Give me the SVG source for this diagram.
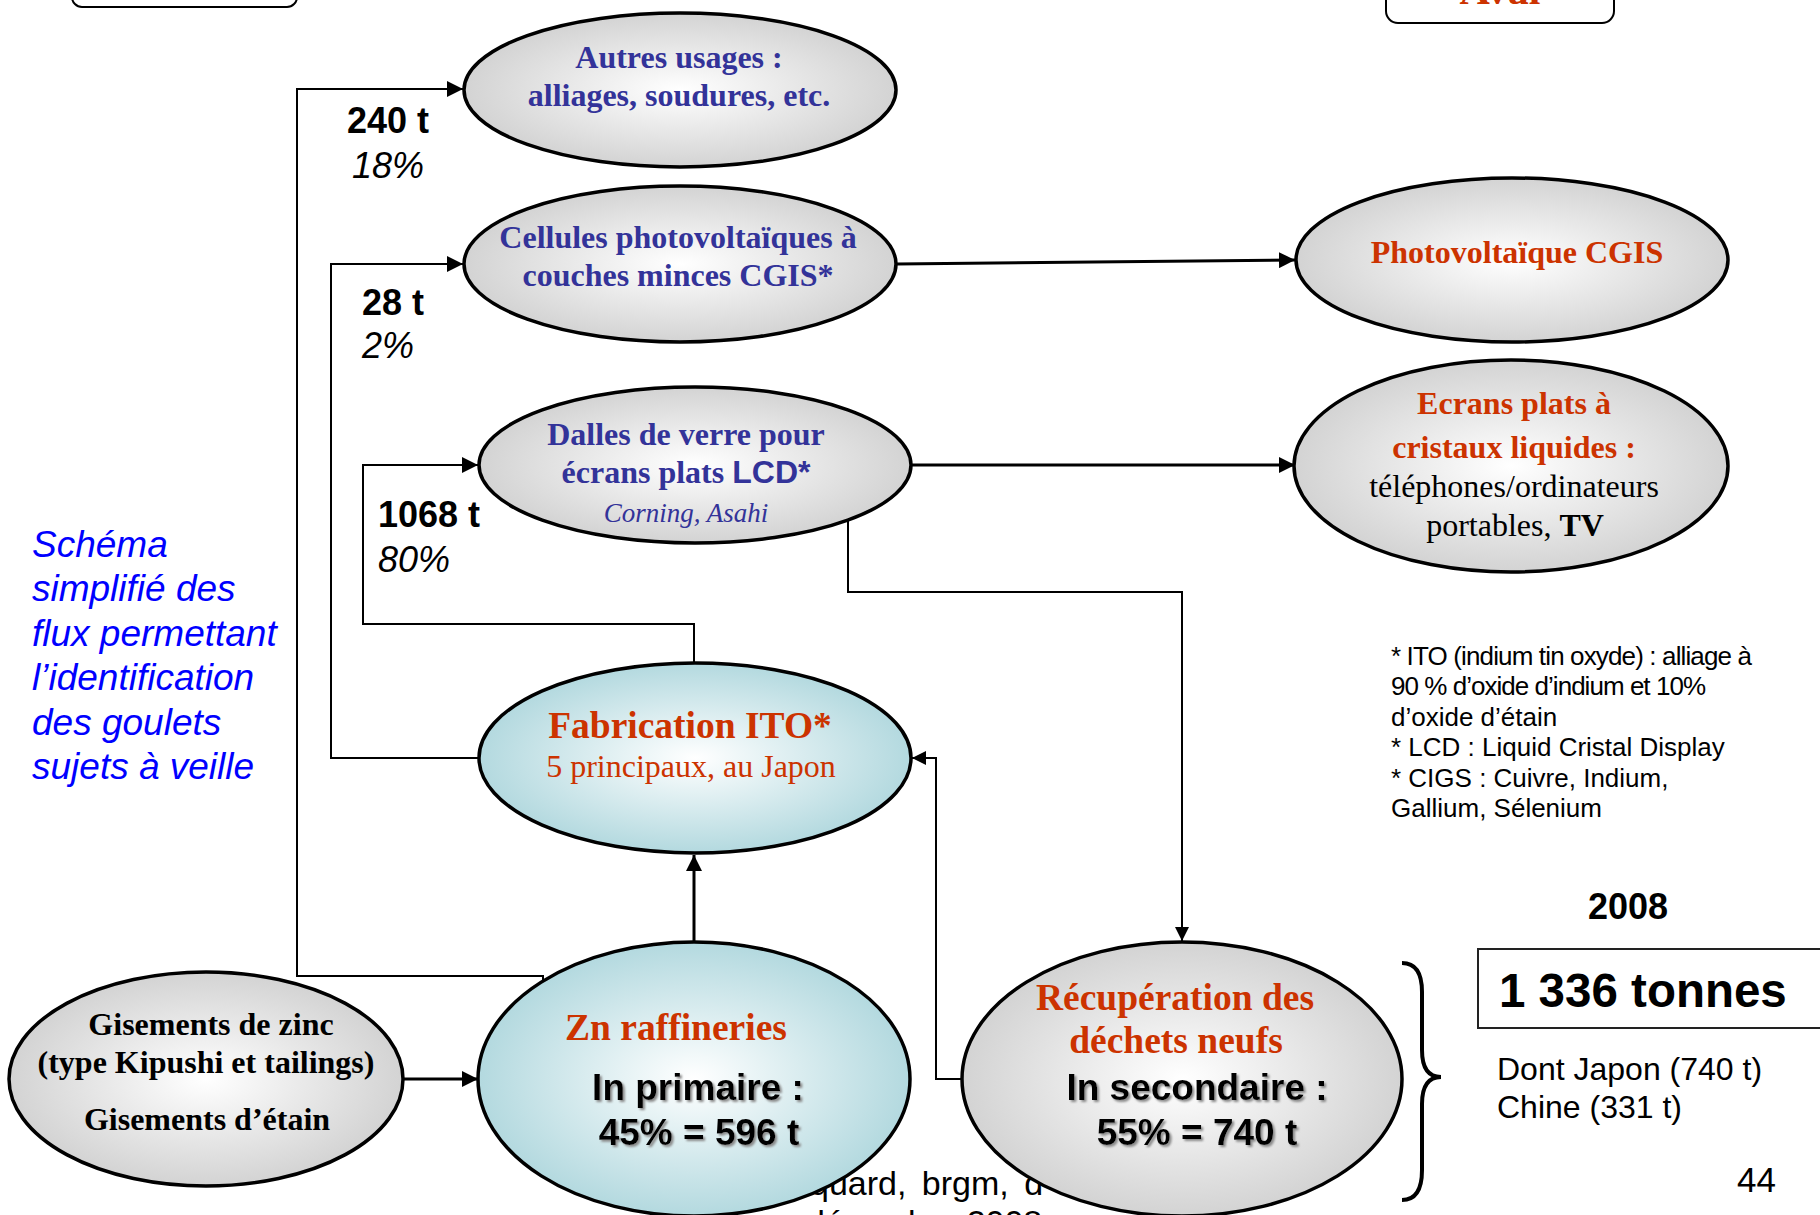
<svg xmlns="http://www.w3.org/2000/svg" width="1820" height="1215" viewBox="0 0 1820 1215">
<style>
.sv{font-family:"Liberation Serif","Times New Roman",serif;font-weight:bold;font-size:32px;text-anchor:middle}
.sr{font-family:"Liberation Serif","Times New Roman",serif;font-size:32px;text-anchor:middle}
.lg{font-size:37.5px}
.blue{fill:#333399}
.red{fill:#cc3300}
.blk{fill:#000}
.ss{font-family:"Liberation Sans",Arial,sans-serif}
.qty{font-family:"Liberation Sans",Arial,sans-serif;font-weight:bold;font-size:36px;fill:#000}
.pct{font-family:"Liberation Sans",Arial,sans-serif;font-style:italic;font-size:36px;fill:#000}
.big{font-family:"Liberation Sans",Arial,sans-serif;font-weight:bold;font-size:37px;text-anchor:middle;fill:#000}
.node{stroke:#000;stroke-width:3.5}
.gray{fill:url(#gGray)}
.cyan{fill:url(#gCyan)}
.thin{fill:none;stroke:#000;stroke-width:2}
.thick{fill:none;stroke:#000;stroke-width:3}
.note{font-family:"Liberation Sans",Arial,sans-serif;font-size:26px;fill:#000}
.side{font-family:"Liberation Sans",Arial,sans-serif;font-style:italic;font-size:37px;fill:#0000ff}
.src{font-family:"Liberation Sans",Arial,sans-serif;font-size:34px;fill:#000}
</style>
<defs>
<radialGradient id="gGray" cx="50%" cy="50%" r="50%">
<stop offset="0" stop-color="#ffffff"/>
<stop offset="1" stop-color="#d3d3d3"/>
</radialGradient>
<radialGradient id="gCyan" cx="50%" cy="50%" r="50%">
<stop offset="0" stop-color="#ffffff"/>
<stop offset="1" stop-color="#b3d9df"/>
</radialGradient>
<marker id="ah" markerUnits="userSpaceOnUse" markerWidth="16" markerHeight="16" viewBox="0 0 16 16" refX="16" refY="8" orient="auto">
<path d="M0,0 L16,8 L0,16 z" fill="#000"/>
</marker>
<marker id="ahs" markerUnits="userSpaceOnUse" markerWidth="14" markerHeight="14" viewBox="0 0 14 14" refX="14" refY="7" orient="auto">
<path d="M0,0 L14,7 L0,14 z" fill="#000"/>
</marker>
<filter id="sh" x="-10%" y="-20%" width="120%" height="150%">
<feDropShadow dx="2" dy="2" stdDeviation="0.8" flood-color="#8a8a8a"/>
</filter>
</defs>

<rect width="1820" height="1215" fill="#fff"/>

<!-- top boxes -->
<g id="box-left">
<rect x="72" y="-50" width="225" height="57" rx="10" fill="#fff" stroke="#000" stroke-width="2"/>
</g>
<g id="box-aval">
<rect x="1386" y="-40" width="228" height="63" rx="12" fill="#fff" stroke="#000" stroke-width="2"/>
<text x="1500" y="4" font-family="Liberation Serif, serif" font-weight="bold" font-size="42" fill="#cc3300" text-anchor="middle">Aval</text>
</g>

<!-- footer source (partly hidden by nodes) -->
<g id="source">
<text class="src" x="810" y="1195" word-spacing="6">quard, brgm, d</text>
<text class="src" x="806" y="1234">décembre 2008</text>
</g>

<!-- connectors -->
<g id="connectors">
<path class="thin" d="M543,982 L543,976 L297,976 L297,89 L463,89" marker-end="url(#ah)"/>
<path class="thin" d="M479,758 L331,758 L331,264 L463,264" marker-end="url(#ah)"/>
<path class="thin" d="M694,662 L694,624 L363,624 L363,465 L478,465" marker-end="url(#ah)"/>
<path class="thick" d="M694,942 L694,855" marker-end="url(#ah)"/>
<path class="thick" d="M403,1079 L478,1079" marker-end="url(#ah)"/>
<path class="thin" d="M848,520 L848,592 L1182,592 L1182,941" marker-end="url(#ahs)"/>
<path class="thin" d="M963,1079 L936,1079 L936,758 L912,758" marker-end="url(#ahs)"/>
<path class="thick" d="M897,264 L1295,260" marker-end="url(#ah)"/>
<path class="thick" d="M912,465 L1295,465" marker-end="url(#ah)"/>
</g>

<!-- flow labels -->
<g id="labels">
<text class="qty" x="347" y="133">240 t</text>
<text class="pct" x="352" y="178">18%</text>
<text class="qty" x="362" y="315">28 t</text>
<text class="pct" x="362" y="358">2%</text>
<text class="qty" x="378" y="527">1068 t</text>
<text class="pct" x="378" y="572">80%</text>
</g>

<!-- nodes -->
<g id="n-autres">
<ellipse class="node gray" cx="680" cy="90" rx="216" ry="77"/>
<text class="sv blue" x="679" y="68">Autres usages :</text>
<text class="sv blue" x="679" y="106">alliages, soudures, etc.</text>
</g>
<g id="n-cellules">
<ellipse class="node gray" cx="680" cy="264" rx="216" ry="78"/>
<text class="sv blue" x="678" y="248">Cellules photovoltaïques à</text>
<text class="sv blue" x="678" y="286">couches minces CGIS*</text>
</g>
<g id="n-dalles">
<ellipse class="node gray" cx="695" cy="465" rx="216" ry="78"/>
<text class="sv blue" x="686" y="445">Dalles de verre pour</text>
<text class="sv blue" x="686" y="483">écrans plats <tspan class="ss">LCD*</tspan></text>
<text x="686" y="522" font-family="Liberation Serif, serif" font-style="italic" font-size="27" fill="#333399" text-anchor="middle">Corning, Asahi</text>
</g>
<g id="n-ito">
<ellipse class="node cyan" cx="695" cy="758" rx="216" ry="95"/>
<text class="sv red lg" x="690" y="738">Fabrication ITO*</text>
<text class="sr red" x="691" y="777">5 principaux, au Japon</text>
</g>
<g id="n-zn">
<ellipse class="node cyan" cx="694" cy="1079" rx="216" ry="137"/>
<text class="sv red lg" x="676" y="1040">Zn raffineries</text>
<text class="big" x="698" y="1100" filter="url(#sh)">In primaire :</text>
<text class="big" x="699" y="1145" filter="url(#sh)">45% = 596 t</text>
</g>
<g id="n-gisements">
<ellipse class="node gray" cx="206" cy="1079" rx="197" ry="107"/>
<text class="sv blk" x="211" y="1035">Gisements de zinc</text>
<text class="sv blk" x="206" y="1073">(type Kipushi et tailings)</text>
<text class="sv blk" x="207" y="1130">Gisements d’étain</text>
</g>
<g id="n-recup">
<ellipse class="node gray" cx="1182" cy="1079" rx="220" ry="137"/>
<text class="sv red lg" x="1175" y="1010">Récupération des</text>
<text class="sv red lg" x="1176" y="1053">déchets neufs</text>
<text class="big" x="1197" y="1100" filter="url(#sh)">In secondaire :</text>
<text class="big" x="1197" y="1145" filter="url(#sh)">55% = 740 t</text>
</g>
<g id="n-pv">
<ellipse class="node gray" cx="1512" cy="260" rx="216" ry="82"/>
<text class="sv red" x="1517" y="263">Photovoltaïque CGIS</text>
</g>
<g id="n-ecrans">
<ellipse class="node gray" cx="1511" cy="466" rx="217" ry="106"/>
<text class="sv red" x="1514" y="414">Ecrans plats à</text>
<text class="sv red" x="1514" y="458">cristaux liquides :</text>
<text class="sr blk" x="1514" y="497">téléphones/ordinateurs</text>
<text class="sr blk" x="1515" y="536">portables, <tspan font-weight="bold">TV</tspan></text>
</g>

<!-- side text -->
<g id="side-text">
<text class="side" x="32" y="557">Schéma</text>
<text class="side" x="32" y="601">simplifié des</text>
<text class="side" x="32" y="646">flux permettant</text>
<text class="side" x="32" y="690">l’identification</text>
<text class="side" x="32" y="735">des goulets</text>
<text class="side" x="32" y="779">sujets à veille</text>
</g>

<!-- footnotes -->
<g id="footnotes">
<text class="note" x="1391" y="665" textLength="361" lengthAdjust="spacing">* ITO (indium tin oxyde) : alliage à</text>
<text class="note" x="1391" y="695" textLength="315" lengthAdjust="spacing">90 % d’oxide d’indium et 10%</text>
<text class="note" x="1391" y="726">d’oxide d’étain</text>
<text class="note" x="1391" y="756">* LCD : Liquid Cristal Display</text>
<text class="note" x="1391" y="787">* CIGS : Cuivre, Indium,</text>
<text class="note" x="1391" y="817">Gallium, Sélenium</text>
</g>

<!-- totals -->
<g id="totals">
<path d="M1402,963 Q1422,963 1422,992 L1422,1050 Q1422,1077 1441,1077 Q1422,1077 1422,1104 L1422,1170 Q1422,1200 1402,1200" fill="none" stroke="#000" stroke-width="4"/>
<text x="1628" y="919" font-family="Liberation Sans, Arial, sans-serif" font-weight="bold" font-size="36" text-anchor="middle">2008</text>
<rect x="1478" y="949" width="350" height="79" fill="#fff" stroke="#222" stroke-width="2"/>
<text x="1499" y="1007" font-family="Liberation Sans, Arial, sans-serif" font-weight="bold" font-size="47.5">1 336 tonnes</text>
<text x="1497" y="1080" font-family="Liberation Sans, Arial, sans-serif" font-size="32">Dont Japon (740 t)</text>
<text x="1497" y="1118" font-family="Liberation Sans, Arial, sans-serif" font-size="32">Chine (331 t)</text>
<text x="1776" y="1192" font-family="Liberation Sans, Arial, sans-serif" font-size="35" text-anchor="end">44</text>
</g>
</svg>
